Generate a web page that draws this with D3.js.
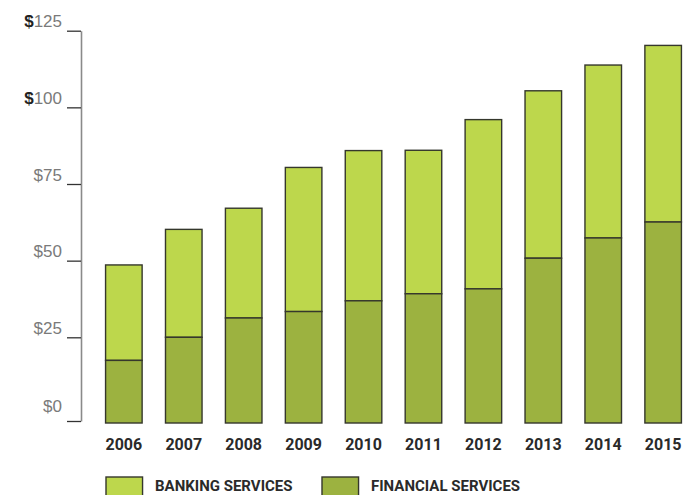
<!DOCTYPE html>
<html>
<head>
<meta charset="utf-8">
<script src="https://cdn.jsdelivr.net/npm/d3@7"></script>
<style>
    body { margin: 0; background: #fff; }
    svg { display: block; font-family: Roboto, "Liberation Sans", sans-serif; }
</style>
</head>
<body>
<svg width="690" height="495"></svg>
<script>
const years = ["2006", "2007", "2008", "2009", "2010", "2011", "2012", "2013", "2014", "2015"];
const financial = [18.1, 25.0, 31.3, 33.4, 36.9, 39.2, 40.8, 50.8, 57.4, 62.6];
const banking = [30.5, 35.2, 35.8, 47.0, 49.0, 46.8, 55.2, 54.6, 56.4, 57.6];
const tickValues = [0, 25, 50, 75, 100, 125];
const seriesNames = ["BANKING SERVICES", "FINANCIAL SERVICES"];

const colors = {banking: "#bdd74c", financial: "#9cb240"};

let svg = d3.select("svg");

// the baseline in the original sits a little below the even tick spacing
let y = d3.scaleLinear()
    .domain([0, 25, 125])
    .range([421, 337.3, 30.7]);
let x = d3.scaleBand()
    .domain(years)
    .range([81, 706])
    .paddingInner(0.39)
    .paddingOuter(0.41);

let data = years.map((yr, i) => ({year: yr, fin: financial[i], bank: banking[i]}));

// axis
let axis = svg.append("g")
    .attr("transform", "translate(81,0)")
    .call(d3.axisLeft(y)
        .tickValues(tickValues)
        .tickSizeInner(14)
        .tickSizeOuter(0)
        .tickPadding(6)
        .tickFormat(() => ""));
axis.select(".domain")
    .attr("stroke", "#8a8a8a")
    .attr("stroke-width", 1.6);
axis.selectAll(".tick line")
    .attr("stroke", "#333")
    .attr("stroke-width", 1.3);
axis.selectAll(".tick text").remove();
axis.selectAll(".tick")
    .append("text")
    .attr("x", -19)
    .attr("y", d => d === 0 ? -16 : -10)
    .attr("dy", "0.36em")
    .attr("text-anchor", "end")
    .attr("font-size", 17)
    .attr("font-weight", 300)
    .attr("fill", "#7a7a7a")
    .each(function(d) {
        let t = d3.select(this);
        if (d >= 100) {
            t.append("tspan").attr("font-weight", 700).attr("fill", "#222").text("$");
        } else {
            t.append("tspan").text("$");
        }
        t.append("tspan").text(d);
    });

// bars
let bars = svg.append("g")
    .selectAll("g")
    .data(data)
    .join("g");
bars.append("rect")
    .attr("x", d => x(d.year))
    .attr("width", x.bandwidth())
    .attr("y", d => y(d.fin + d.bank))
    .attr("height", d => y(d.fin) - y(d.fin + d.bank))
    .attr("fill", colors.banking)
    .attr("stroke", "#35372c")
    .attr("stroke-width", 1.4);
bars.append("rect")
    .attr("x", d => x(d.year))
    .attr("width", x.bandwidth())
    .attr("y", d => y(d.fin))
    .attr("height", d => y(0) - y(d.fin) + 2)
    .attr("fill", colors.financial)
    .attr("stroke", "#35372c")
    .attr("stroke-width", 1.4);

// year labels
svg.append("g")
    .selectAll("text")
    .data(years)
    .join("text")
    .attr("x", d => x(d) + x.bandwidth() / 2)
    .attr("y", 450)
    .attr("text-anchor", "middle")
    .attr("font-size", 16)
    .attr("font-weight", 700)
    .attr("fill", "#2a2a2a")
    .text(d => d);

// legend
let legendX = [106, 322];
let legend = svg.append("g")
    .selectAll("g")
    .data(seriesNames)
    .join("g")
    .attr("transform", (d, i) => "translate(" + legendX[i] + ",477)");
legend.append("rect")
    .attr("width", x.bandwidth())
    .attr("height", 30)
    .attr("fill", (d, i) => i === 0 ? colors.banking : colors.financial)
    .attr("stroke", "#35372c")
    .attr("stroke-width", 1.4);
legend.append("text")
    .attr("x", 49)
    .attr("y", 14)
    .attr("font-size", 15)
    .attr("font-weight", 700)
    .attr("fill", "#2a2a2a")
    .text(d => d);
</script>
</body>
</html>
